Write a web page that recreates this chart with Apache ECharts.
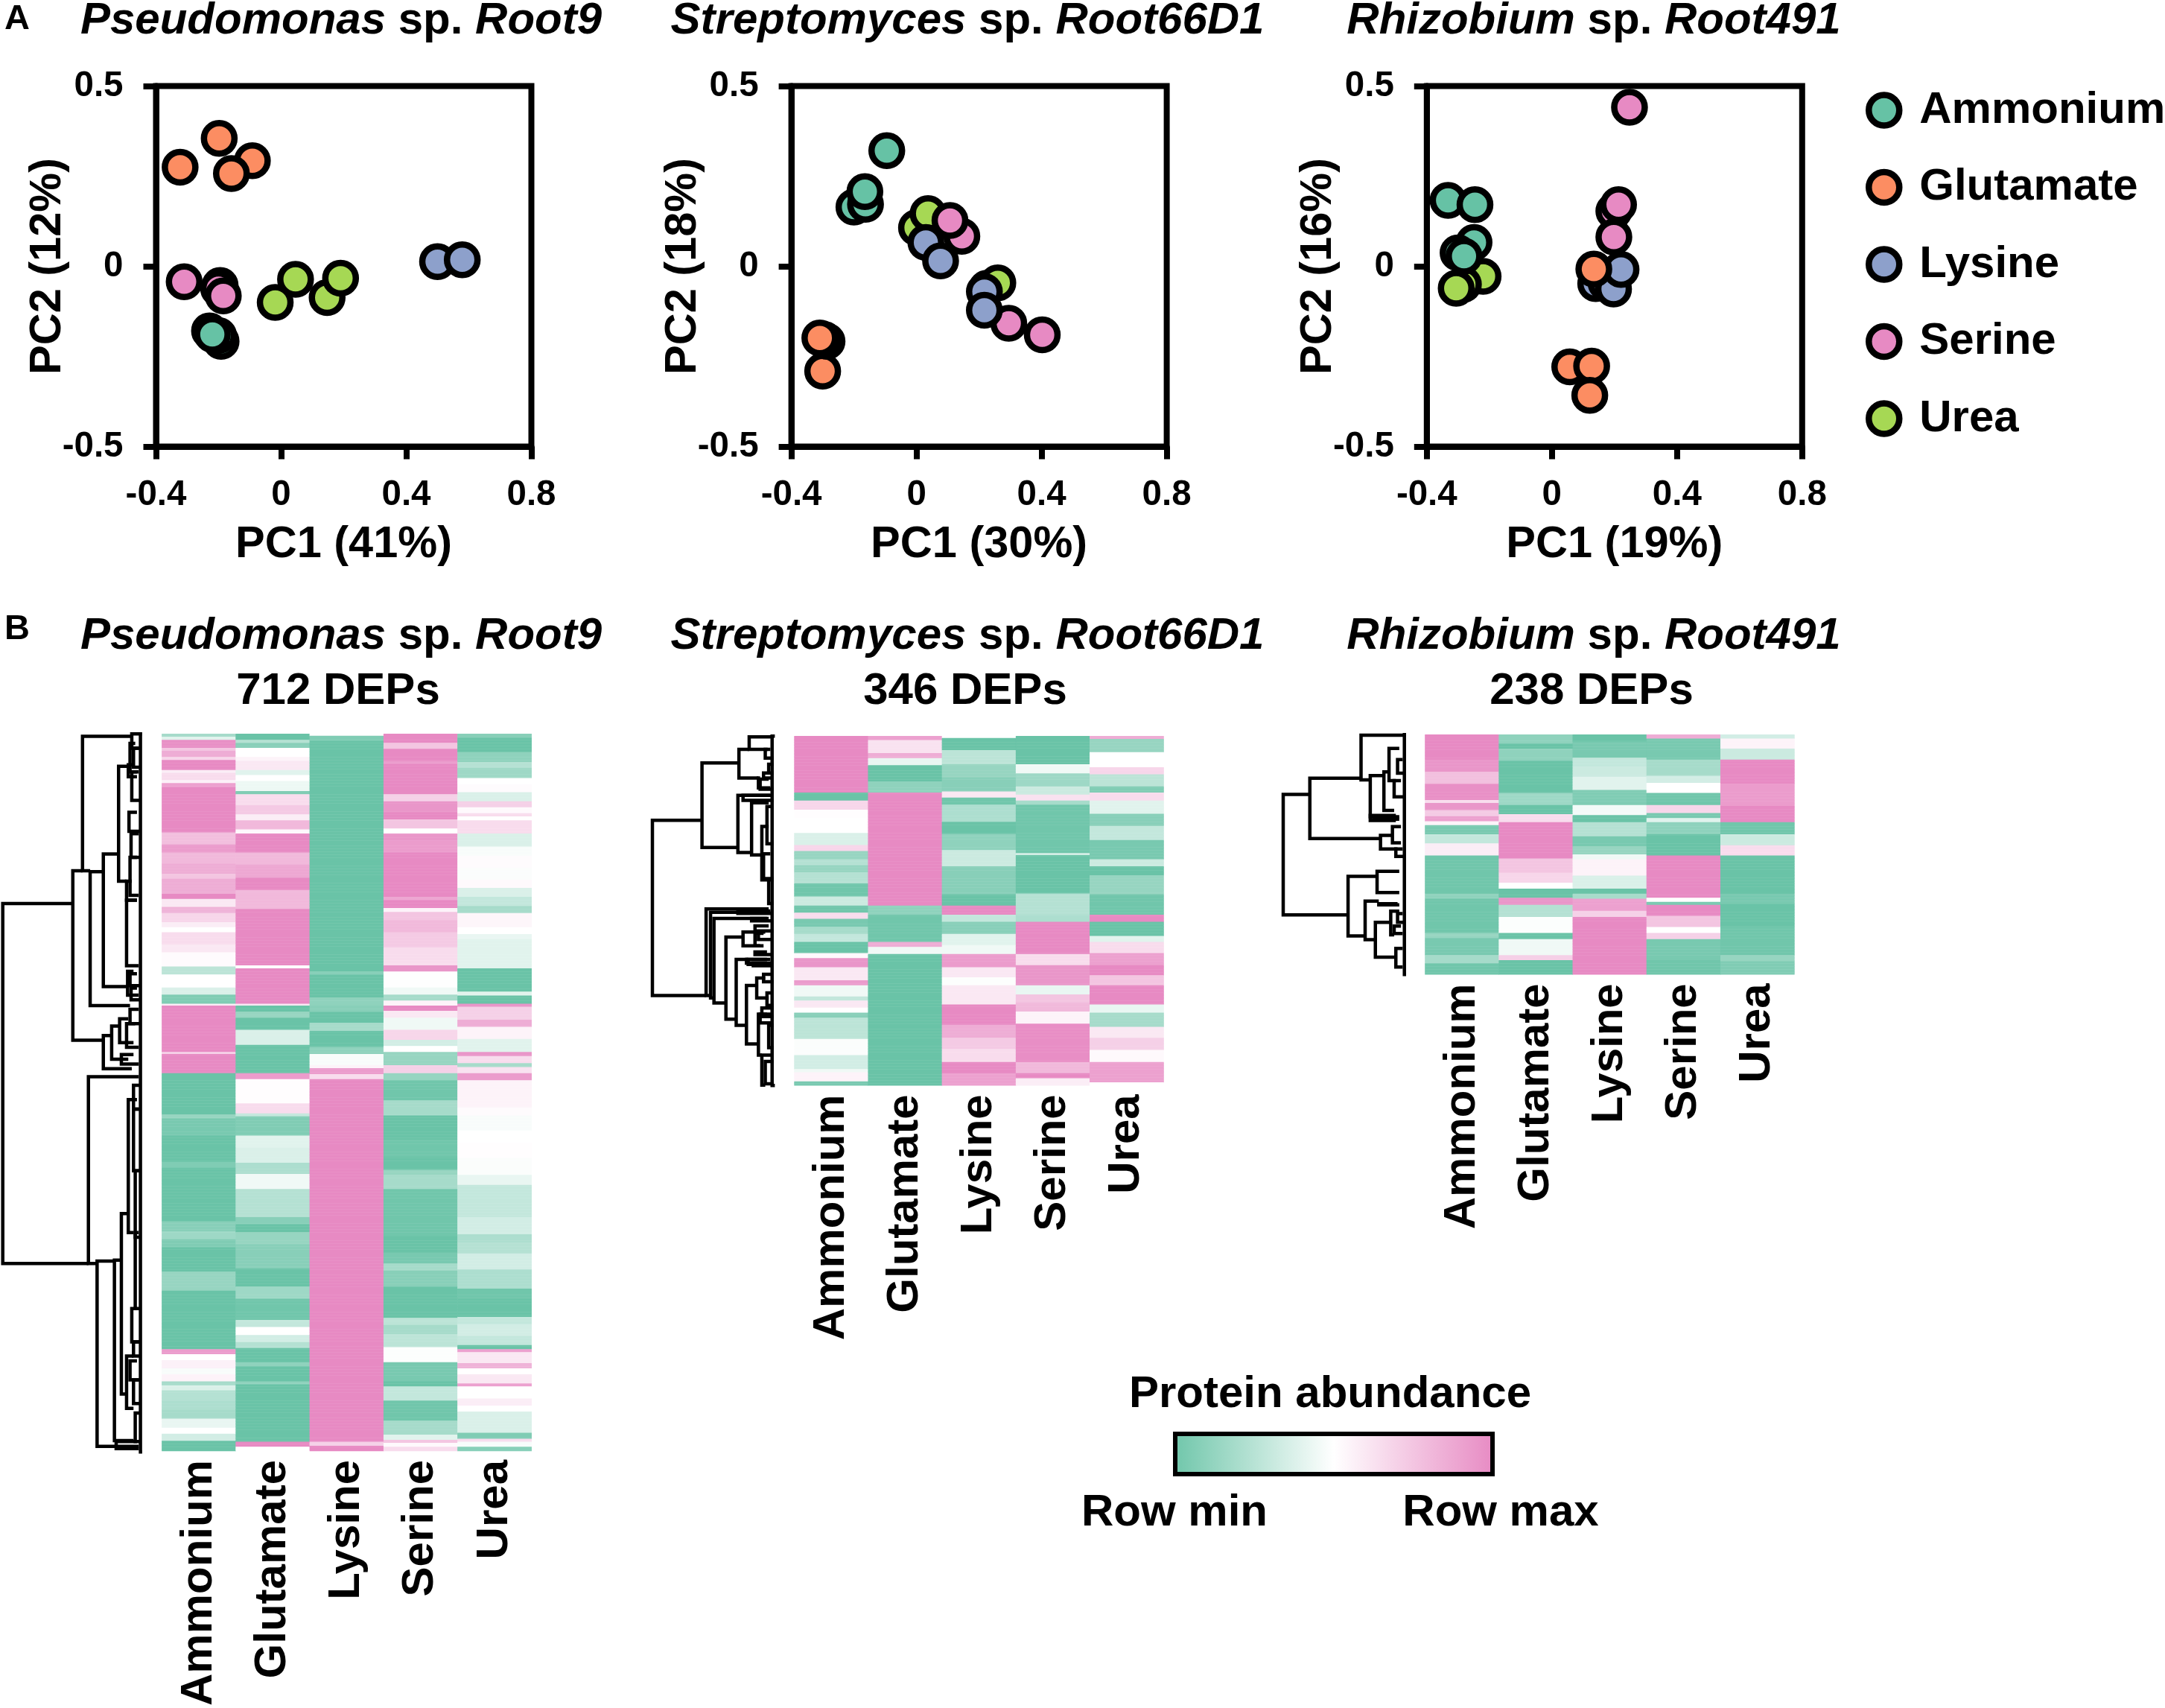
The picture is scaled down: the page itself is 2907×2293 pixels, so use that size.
<!DOCTYPE html>
<html><head><meta charset="utf-8">
<style>html,body{margin:0;padding:0;background:#fff}#c{width:2907px;height:2293px}</style>
<script src="https://cdn.jsdelivr.net/npm/echarts@6/dist/echarts.min.js"></script>
</head><body><div id="c"></div>
<script>
// ---------- PCA scores (PC1, PC2) ----------
const p1Ammonium=[[-0.229,-0.179],[-0.192,-0.208],[-0.2,-0.192],[-0.22,-0.189]];
const p1Glutamate=[[-0.092,0.293],[-0.198,0.355],[-0.323,0.275],[-0.159,0.257]];
const p1Lysine=[[0.50,0.013],[0.579,0.018]];
const p1Serine=[[-0.31,-0.043],[-0.195,-0.053],[-0.20,-0.062],[-0.185,-0.082]];
const p1Urea=[[-0.019,-0.1],[0.147,-0.087],[0.046,-0.036],[0.19,-0.033]];
const p2Ammonium=[[-0.095,0.321],[-0.2,0.164],[-0.163,0.172],[-0.165,0.207]];
const p2Glutamate=[[-0.3,-0.291],[-0.286,-0.208],[-0.295,-0.203],[-0.309,-0.199]];
const p2Lysine=[[0.03,0.066],[0.077,0.015],[0.217,-0.07],[0.217,-0.122]];
const p2Serine=[[0.145,0.083],[0.107,0.127],[0.295,-0.158],[0.402,-0.19]];
const p2Urea=[[0,0.107],[0.037,0.146],[0.225,-0.061],[0.26,-0.046]];
const p3Ammonium=[[-0.332,0.183],[-0.246,0.171],[-0.249,0.066],[-0.3,0.037],[-0.281,0.028]];
const p3Glutamate=[[0.057,-0.279],[0.127,-0.277],[0.121,-0.358],[0.134,-0.008]];
const p3Lysine=[[0.14,-0.048],[0.173,-0.046],[0.197,-0.063],[0.221,-0.009]];
const p3Serine=[[0.248,0.441],[0.198,0.153],[0.213,0.171],[0.198,0.081]];
const p3Urea=[[-0.22,-0.028],[-0.283,-0.05],[-0.306,-0.061]];

const conditions=['Ammonium','Glutamate','Lysine','Serine','Urea'];
const depCounts=[712,346,238];

// ---------- heat map bands per column: [band end on read scale, relative abundance -1..1] ----------
const h1Ammonium=[[12,-.6],[25,-.2],[55,.95],[70,.5],[95,.7],[107,.35],[145,1],[160,.15],[185,.3],[200,.12],[215,.8],[400,1],[448,.55],[480,.85],[525,.6],[565,.7],[585,.5],[645,.7],[668,1],[700,.2],[722,.65],[760,.35],[780,.15],[800,0],[850,.3],[880,.2],[940,.03],[970,-.45],[1025,0],[1050,-.25],[1088,-.85],[1098,.15],[1282,1],[1292,.4],[1368,1],[1535,-1],[1550,-.7],[1620,-.9],[1725,-1],[1750,-.85],[1965,-1],[2005,-.8],[2040,-.65],[2070,-.85],[2168,-1],[2245,-.7],[2480,-1],[2502,.85],[2525,0],[2560,.12],[2585,-.05],[2610,.1],[2630,-.6],[2650,-.25],[2690,-.5],[2725,-.55],[2760,-.6],[2800,-.15],[2822,0],[2852,-.3],[2892,-1]];
const h1Glutamate=[[25,-1],[38,-.5],[58,-.8],[95,0],[110,.1],[145,.2],[165,-.2],[190,0],[232,-.12],[245,-.85],[290,.3],[325,.45],[350,.15],[385,.6],[403,.05],[480,1],[530,.6],[582,.75],[628,1],[705,.6],[935,1],[948,0],[1088,1],[1098,.2],[1120,-1],[1145,-.7],[1195,-1],[1255,-.25],[1368,-1],[1392,.85],[1490,.02],[1530,.3],[1545,-.4],[1622,-.85],[1670,-.2],[1730,-.25],[1775,-.55],[1835,-.1],[1950,-.5],[1978,-.8],[2012,-1],[2060,-.7],[2155,-.8],[2230,-1],[2280,-.65],[2365,-.95],[2393,-.4],[2425,0],[2455,-.3],[2478,-.5],[2535,-1],[2550,-.75],[2610,-1],[2622,-.75],[2855,-1],[2875,1],[2892,0]];
const h1Lysine=[[8,0],[30,-.85],[960,-1],[970,-.8],[1065,-1],[1098,-.75],[1120,-.8],[1165,-1],[1200,-.6],[1265,-1],[1290,-.75],[1335,-.05],[1350,.1],[1372,.85],[1392,.3],[2855,1],[2870,.4],[2892,1]];
const h1Serine=[[38,1],[60,.5],[108,1],[120,.85],[245,1],[272,.4],[315,.9],[345,1],[382,.5],[403,0],[430,.9],[480,.85],[660,1],[672,.75],[703,1],[720,.1],[750,.5],[800,.6],[860,.45],[935,.3],[958,.9],[1025,-.01],[1050,-.1],[1075,-.6],[1095,.1],[1115,1],[1145,.2],[1195,-.1],[1235,.35],[1260,-.3],[1285,0],[1335,-.7],[1368,.4],[1398,-.7],[1480,-.95],[1538,-.6],[1635,-1],[1705,-.95],[1758,-1],[1780,-.7],[1835,-.6],[2025,-.95],[2090,-1],[2135,-.9],[2165,-.6],[2230,-.8],[2355,-1],[2385,-.45],[2420,-.6],[2475,-.45],[2535,-.02],[2610,-.9],[2632,-1],[2688,-.4],[2770,-.95],[2825,-.6],[2848,-.2],[2858,.5],[2875,.05],[2892,.3]];
const h1Urea=[[15,-.8],[75,-1],[115,-.75],[140,-.5],[180,-.65],[205,0],[235,.03],[272,-.25],[297,.4],[320,.05],[332,.3],[350,0],[403,.3],[455,-.25],[490,-.05],[540,.03],[590,-.03],[620,.05],[660,-.25],[695,-.4],[725,-.6],[780,.08],[810,0],[830,-.15],[945,-.2],[1040,-1],[1055,-.2],[1088,-1],[1102,.9],[1155,.4],[1182,.7],[1230,.1],[1285,-.2],[1300,.9],[1330,.3],[1345,-.6],[1370,.25],[1398,.85],[1505,.1],[1538,.03],[1600,-.05],[1650,0],[1710,.02],[1780,-.03],[1818,-.15],[1950,-.4],[2018,-.3],[2050,-.55],[2095,-.5],[2160,-.3],[2240,-.55],[2280,-.95],[2350,-1],[2380,-.4],[2430,-.3],[2465,-.4],[2480,-1],[2492,.8],[2540,.2],[2560,.65],[2585,0],[2620,.2],[2632,.8],[2680,0],[2710,.15],[2735,0],[2820,-.25],[2845,-.85],[2855,.3],[2875,-.05],[2892,-.8]];

const h2Ammonium=[[228,1],[262,-1],[295,.35],[330,.02],[390,0],[440,-.25],[465,.35],[495,-.7],[520,-.5],[550,-.7],[595,-.5],[645,-.95],[685,-.35],[712,-.95],[738,.3],[770,-.9],[795,-.6],[830,-.4],[875,-1],[895,.05],[930,.9],[985,.2],[1005,.85],[1050,-.1],[1065,-.4],[1095,.2],[1115,0],[1135,-.8],[1220,-.45],[1285,-.03],[1340,-.3],[1355,-.1],[1390,.1],[1407,-.9]];
const h2Glutamate=[[18,.8],[70,.25],[90,.7],[118,-.15],[185,-1],[228,-.75],[682,1],[720,-.75],[830,-.95],[850,.7],[878,-.1],[1407,-1]];
const h2Lysine=[[10,0],[55,-1],[112,-.45],[165,-.7],[225,-.8],[250,.2],[275,-.95],[345,-.55],[395,-1],[460,-.75],[525,-.35],[640,-.8],[682,-1],[718,1],[750,-.4],[795,-.8],[840,-.2],[878,-.1],[930,.85],[970,.2],[1005,-.02],[1080,.2],[1165,1],[1215,.7],[1260,.45],[1315,.3],[1360,1],[1407,.8]];
const h2Serine=[[115,-1],[150,-.1],[205,-.65],[235,-.35],[262,.25],[275,-.6],[470,-.95],[480,-.3],[635,-1],[720,-.5],[750,-.55],[878,1],[925,.3],[1005,.9],[1040,-.15],[1075,.5],[1110,.6],[1160,.1],[1315,.97],[1360,.6],[1378,1],[1407,.15]];
const h2Urea=[[12,.7],[65,-.7],[125,0],[155,.35],[205,-.45],[228,-.85],[262,.3],[315,-.2],[360,-.8],[420,-.4],[495,-.9],[525,-.35],[560,-1],[640,-.7],[718,-.95],[750,1],[805,-1],[830,-.2],[875,.3],[925,.8],[965,1],[1005,.5],[1080,1],[1115,-.15],[1170,-.6],[1215,.2],[1265,.4],[1315,.05],[1395,.8],[1407,0]];

const h3Ammonium=[[100,1],[150,.9],[200,.55],[265,.95],[278,.3],[305,.9],[330,.45],[350,.8],[365,.1],[400,-.9],[440,-.4],[488,.15],[640,-.95],[660,-.75],[800,-.95],[820,-.7],[890,-.9],[920,-.6],[966,-.95]];
const h3Glutamate=[[38,-.75],[55,-1],[105,-.75],[235,-1],[285,-.65],[320,-1],[352,.3],[500,1],[555,.5],[595,.35],[620,0],[658,-1],[685,.9],[735,-.5],[800,-.02],[825,-1],[890,-.1],[910,.4],[966,-1]];
const h3Lysine=[[30,-1],[95,-.9],[130,-.4],[170,-.35],[225,-.2],[285,-.85],[325,-.08],[355,-1],[410,-.5],[450,-.9],[485,-.7],[505,-.1],[570,.1],[620,-.25],[640,-1],[660,-.6],[710,.8],[733,.4],[966,1]];
const h3Serine=[[15,.7],[100,-.9],[165,-.6],[195,-.3],[235,0],[285,-.95],[318,.35],[335,-.9],[355,-.2],[400,-.75],[488,-1],[658,1],[672,0],[685,-.9],[730,1],[775,.5],[800,0],[825,.4],[910,-.9],[966,-.95]];
const h3Urea=[[15,-.3],[55,.1],[100,-.35],[200,1],[290,.85],[355,1],[400,-.95],[445,-.35],[488,.3],[640,-1],[680,-.9],[770,-1],[890,-.95],[915,-.7],[966,-.85]];

// ---------- clustering trees: [join height, upper row, upper child height, lower row, lower child height] ----------
const tree1=[[8,397,210,1155,255],[210,328,238,685,298],[238,45,380,328,260],[260,330,298,612,375],[298,293,342,572,365],[342,108,370,350,365],[365,390,395,528,400],[298,675,322,745,380],[322,655,345,725,370],[255,762,400,1155,280],[280,1150,330,1540,400],[330,1148,350,1528,385],[350,1050,370,1430,365],[370,810,395,1090,385],[365,1350,385,1460,385],[380,40,405,70,405],[375,60,390,120,400],[370,105,385,130,395],[385,70,400,110,405],[380,120,395,180,405],[372,205,395,245,405],[378,250,400,300,405],[375,300,395,380,400],[365,350,380,390,395],[368,540,385,590,400],[375,545,395,570,405],[378,575,395,600,405],[345,640,370,690,385],[365,650,390,700,400],[350,715,385,735,400],[375,620,400,650,405],[385,780,405,830,405],[385,830,400,960,405],[390,960,402,1100,405],[390,1090,400,1250,405],[380,1250,395,1320,405],[385,1320,405,1350,405],[375,1360,395,1400,405],[385,1400,400,1450,405],[390,1470,405,1530,405],[335,1530,395,1545,400],[405,40,410,1552,410]];
const tree2=[[35,425,180,1130,192],[180,195,288,535,285],[288,140,318,255,345],[318,90,385,140,372],[345,255,350,295,380],[285,325,385,555,325],[325,355,375,565,355],[355,450,375,665,375],[192,782,375,1130,205],[205,795,380,1140,215],[215,820,375,1160,250],[250,895,300,1225,280],[300,875,335,930,350],[335,880,360,930,360],[280,985,315,1250,310],[315,985,380,1005,375],[310,1090,340,1325,345],[340,1060,365,1140,375],[345,1205,370,1370,355],[355,1370,385,1490,365],[365,1395,390,1485,390],[350,1205,385,1240,385],[350,260,375,300,390],[360,235,375,255,385],[365,140,380,175,390],[375,200,390,235,390],[300,325,380,345,390],[370,370,385,520,390],[360,560,380,660,390],[375,665,390,760,390],[285,790,380,800,385],[325,820,370,830,385],[335,850,375,870,390],[345,875,365,905,385],[335,955,370,965,385],[310,985,370,1000,385],[330,1000,370,1010,385],[360,1045,385,1075,390],[370,1120,385,1170,390],[355,1180,390,1215,390],[375,1250,390,1340,390],[385,87,393,1492,393]];
const tree3=[[50,320,128,805,240],[128,255,278,498,335],[278,82,405,262,305],[305,245,345,425,380],[345,230,360,385,375],[360,135,390,265,380],[385,180,400,235,405],[375,265,395,330,405],[315,415,380,420,390],[305,405,380,410,390],[335,485,370,540,385],[370,450,395,515,395],[380,540,400,570,405],[240,650,325,890,290],[325,630,390,715,390],[290,750,330,905,320],[330,760,385,765,390],[320,835,365,975,380],[365,790,390,885,375],[375,850,395,880,400],[380,940,400,1015,400],[385,800,400,835,405],[405,80,410,1045,410]];

// ---------- assembly ----------
const FF='"Liberation Sans",Arial,sans-serif';
const colors={Ammonium:'#66C2A5',Glutamate:'#FC8D62',Lysine:'#8DA0CB',Serine:'#E78AC3',Urea:'#A6D854'};
const pca=[
 {Ammonium:p1Ammonium,Glutamate:p1Glutamate,Lysine:p1Lysine,Serine:p1Serine,Urea:p1Urea,order:conditions,xName:'PC1 (41%)',yName:'PC2 (12%)',left:209.5},
 {Ammonium:p2Ammonium,Glutamate:p2Glutamate,Lysine:p2Lysine,Serine:p2Serine,Urea:p2Urea,order:['Urea','Serine','Lysine','Glutamate','Ammonium'],xName:'PC1 (30%)',yName:'PC2 (18%)',left:1062.6},
 {Ammonium:p3Ammonium,Glutamate:p3Glutamate,Lysine:p3Lysine,Serine:p3Serine,Urea:p3Urea,order:['Serine','Lysine','Glutamate','Urea','Ammonium'],xName:'PC1 (19%)',yName:'PC2 (16%)',left:1915.8}
];
const heat=[
 {cols:[h1Ammonium,h1Glutamate,h1Lysine,h1Serine,h1Urea],bandMax:2892,tree:tree1,read:[40,1552],treeRead:[8,410],left:217.4,w:496.3,top:985.3,h:964,tl:3.7,tw:187.2},
 {cols:[h2Ammonium,h2Glutamate,h2Lysine,h2Serine,h2Urea],bandMax:1407,tree:tree2,read:[87,1492],treeRead:[35,393],left:1066.6,w:495.9,top:988.3,h:469,tl:876,tw:164.4},
 {cols:[h3Ammonium,h3Glutamate,h3Lysine,h3Serine,h3Urea],bandMax:966,tree:tree3,read:[80,1045],treeRead:[50,410],left:1913.5,w:495.9,top:986.3,h:322,tl:1723,tw:165}
];
const grid=[],xAxis=[],yAxis=[],series=[],heatIdx=[];
const nameFont={fontFamily:FF,fontWeight:'bold',fontSize:59.5,color:'#000'};
pca.forEach(p=>{
  const i=grid.length;
  grid.push({left:p.left,top:115.5,width:504,height:484,show:true,borderColor:'#000',borderWidth:8,backgroundColor:'transparent'});
  xAxis.push({type:'value',gridIndex:i,min:-0.4,max:0.8,interval:0.4,name:p.xName,nameLocation:'middle',nameGap:102,nameMoveOverlap:false,
    nameTextStyle:nameFont,
    axisLine:{onZero:false,lineStyle:{color:'#000',width:8}},axisTick:{length:17,lineStyle:{color:'#000',width:8}},
    axisLabel:{fontFamily:FF,fontWeight:'bold',fontSize:47.5,color:'#000',margin:41,showMinLabel:true,showMaxLabel:true},splitLine:{show:false}});
  yAxis.push({type:'value',gridIndex:i,min:-0.5,max:0.5,interval:0.5,name:p.yName,nameLocation:'middle',nameGap:115,nameMoveOverlap:false,
    nameTextStyle:nameFont,
    axisLine:{onZero:false,lineStyle:{color:'#000',width:8}},axisTick:{length:17,lineStyle:{color:'#000',width:8}},
    axisLabel:{fontFamily:FF,fontWeight:'bold',fontSize:47.5,color:'#000',margin:44,showMinLabel:true,showMaxLabel:true},splitLine:{show:false}});
  p.order.forEach(name=>series.push({type:'scatter',name,xAxisIndex:i,yAxisIndex:i,data:p[name],symbol:'circle',symbolSize:41,
    itemStyle:{color:colors[name],borderColor:'#000',borderWidth:8.5,opacity:1},emphasis:{disabled:true},silent:true,clip:false}));
});
heat.forEach((m,k)=>{
  const N=depCounts[k],i=grid.length;
  grid.push({left:m.left,top:m.top,width:m.w,height:m.h});
  xAxis.push({type:'category',gridIndex:i,data:conditions,position:'bottom',axisLine:{show:false},axisTick:{show:false},
    axisLabel:{rotate:90,interval:0,margin:12,padding:[14,0,0,0],fontFamily:FF,fontWeight:'bold',fontSize:60,color:'#000'}});
  const rows=Array.from({length:N},(_,r)=>r);
  yAxis.push({type:'category',gridIndex:i,data:rows,inverse:true,show:false});
  const cells=[];
  m.cols.forEach((bands,c)=>{
    let b=0;
    for(let r=0;r<N;r++){
      const pos=(r+.5)/N*m.bandMax;
      while(b<bands.length-1&&bands[b][0]<pos)b++;
      cells.push([c,r,bands[b][1]]);
    }
  });
  heatIdx.push(series.length);
  series.push({type:'heatmap',xAxisIndex:i,yAxisIndex:i,data:cells,progressive:0,silent:true,emphasis:{disabled:true}});
  const j=grid.length;
  grid.push({left:m.tl,top:m.top,width:m.tw,height:m.h});
  xAxis.push({type:'value',gridIndex:j,min:m.treeRead[0],max:m.treeRead[1],show:false});
  yAxis.push({type:'value',gridIndex:j,min:m.read[0],max:m.read[1],inverse:true,show:false});
  series.push({type:'custom',xAxisIndex:j,yAxisIndex:j,data:m.tree,silent:true,clip:false,
    encode:{x:[0,2,4],y:[1,3]},
    renderItem:(params,api)=>{
      const a=api.coord([api.value(2),api.value(1)]),b=api.coord([api.value(0),api.value(1)]),
            c=api.coord([api.value(0),api.value(3)]),d=api.coord([api.value(4),api.value(3)]);
      return {type:'polyline',shape:{points:[a,b,c,d]},style:{stroke:'#000',lineWidth:4.5,fill:null,lineJoin:'miter'}};
    }});
});
const titleRich={i:{fontFamily:FF,fontWeight:'bold',fontStyle:'italic',fontSize:60,color:'#000'},b:{fontFamily:FF,fontWeight:'bold',fontSize:60,color:'#000'}};
const mkTitle=(txt,cx,top)=>({text:txt,left:cx,top,textAlign:'center',padding:0,textStyle:{fontFamily:FF,fontWeight:'bold',fontSize:60,color:'#000',rich:titleRich}});
const names=[['Pseudomonas','Root9',458],['Streptomyces','Root66D1',1299],['Rhizobium','Root491',2140]];
const title=[];
names.forEach(n=>{
  title.push(mkTitle(`{i|${n[0]}}{b| sp. }{i|${n[1]}}`,n[2],-2));
  title.push(mkTitle(`{i|${n[0]}}{b| sp. }{i|${n[1]}}`,n[2],824));
});
const lbl=(text,x,y,size,align)=>({type:'text',silent:true,style:{text,x,y,align:align||'center',verticalAlign:'middle',fill:'#000',font:`bold ${size}px ${FF}`}});
const graphic=[
  lbl('A',23,26,47),lbl('B',23,845,47),
  lbl('712 DEPs',454,928,60),lbl('346 DEPs',1296,928,60),lbl('238 DEPs',2137,928,60),
  lbl('Protein abundance',1786,1872,60),
  lbl('Row min',1577,2031,60),lbl('Row max',2015,2031,60),
  {type:'rect',silent:true,shape:{x:1578,y:1925,width:426,height:54},
   style:{lineWidth:6,stroke:'#000',fill:{type:'linear',x:0,y:0,x2:1,y2:0,colorStops:[{offset:0,color:'#6FC6AA'},{offset:.5,color:'#ffffff'},{offset:1,color:'#E78AC3'}]}}}
];
const chart=echarts.init(document.getElementById('c'),null,{renderer:'canvas'});
chart.setOption({
  animation:false,backgroundColor:'#fff',title,grid,xAxis,yAxis,series,
  visualMap:{type:'continuous',show:false,min:-1,max:1,seriesIndex:heatIdx,calculable:false,inRange:{color:['#6AC3A7','#ffffff','#E78AC3']}},
  legend:{data:conditions,orient:'vertical',left:2500,top:113,itemWidth:85,itemHeight:41,itemGap:43.5,icon:'circle',selectedMode:false,
    itemStyle:{borderColor:'#000',borderWidth:8.5},textStyle:{fontFamily:FF,fontWeight:'bold',fontSize:60,color:'#000'}},
  graphic:{elements:graphic}
});
</script></body></html>
